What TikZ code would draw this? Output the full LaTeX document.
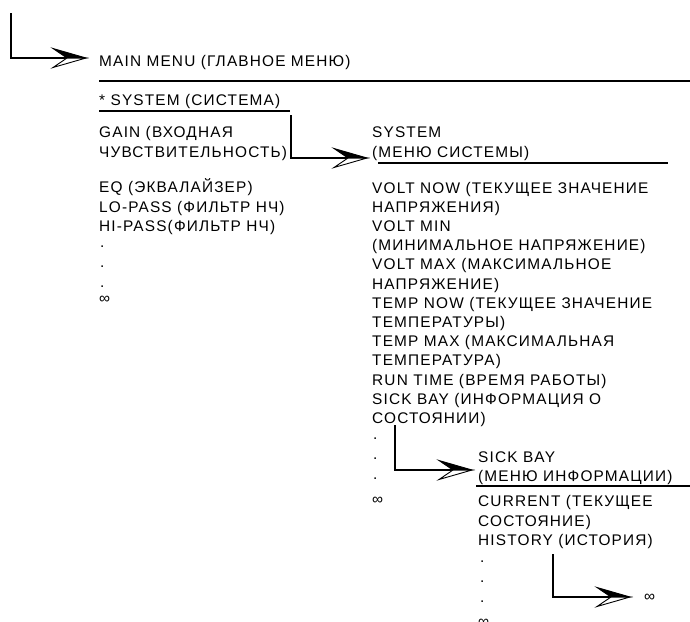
\documentclass[tikz,border=0pt]{standalone}
\usepackage{fontspec}
\setmainfont{Liberation Sans}[LetterSpace=7.5]
\usepackage{tikz}

\pgfdeclarearrow{
  name = menutip,
  setup code = {
    \pgfarrowssettipend{0pt}
    \pgfarrowssetbackend{-33pt}
    \pgfarrowssetlineend{-17pt}
    \pgfarrowshullpoint{0pt}{0pt}
    \pgfarrowshullpoint{-33pt}{9.5pt}
    \pgfarrowshullpoint{-33pt}{-9.5pt}
  },
  drawing code = {
    \pgfsetlinewidth{0.9pt}
    \pgfsetmiterjoin
    \pgfpathmoveto{\pgfqpoint{0pt}{0pt}}
    \pgfpathlineto{\pgfqpoint{-33pt}{-9.5pt}}
    \pgfpathlineto{\pgfqpoint{-19pt}{0pt}}
    \pgfpathclose
    \pgfsetfillcolor{white}
    \pgfusepathqfillstroke
    \pgfpathmoveto{\pgfqpoint{0pt}{0pt}}
    \pgfpathlineto{\pgfqpoint{-33pt}{9.5pt}}
    \pgfpathlineto{\pgfqpoint{-19pt}{0pt}}
    \pgfpathclose
    \pgfsetfillcolor{black}
    \pgfusepathqfillstroke
  }
}

\begin{document}
\begin{tikzpicture}[x=1pt,y=-1pt,
    item/.style={anchor=base west, inner sep=0pt,
        font=\fontsize{15.4}{19}\selectfont},
    rule/.style={line width=2.6pt},
    elbow/.style={line width=1.8pt, -menutip}]
\useasboundingbox (0,0) rectangle (690,621);

% main menu
\node [item] (mainmenu) at (99,66) {MAIN MENU (ГЛАВНОЕ МЕНЮ)};
\draw [rule] (99,81) -- (690,81);
\node [item] (system) at (99,105) {* SYSTEM (СИСТЕМА)};
\draw [rule] (99,111) -- (290,111);
\node [item] (gain1) at (99,137) {GAIN (ВХОДНАЯ};
\node [item] (gain2) at (99,157) {ЧУВСТВИТЕЛЬНОСТЬ)};
\node [item] (eq) at (99,192) {EQ (ЭКВАЛАЙЗЕР)};
\node [item] (lopass) at (99,212) {LO-PASS (ФИЛЬТР НЧ)};
\node [item] (hipass) at (99,231) {HI-PASS(ФИЛЬТР НЧ)};
\foreach \y [count=\i] in {247,267,287}
    \node [item] (dotA\i) at (100,\y) {.};
\node [item] (inf0) at (99,303) {∞};

% system menu
\node [item] (sys1) at (372,137) {SYSTEM};
\node [item] (sys2) at (372,157) {(МЕНЮ СИСТЕМЫ)};
\draw [rule] (378,163) -- (668,163);
\foreach \t [count=\i from 0] in {VOLT NOW (ТЕКУЩЕЕ ЗНАЧЕНИЕ, НАПРЯЖЕНИЯ),
    VOLT MIN, (МИНИМАЛЬНОЕ НАПРЯЖЕНИЕ), VOLT MAX (МАКСИМАЛЬНОЕ,
    НАПРЯЖЕНИЕ), TEMP NOW (ТЕКУЩЕЕ ЗНАЧЕНИЕ, ТЕМПЕРАТУРЫ),
    TEMP MAX (МАКСИМАЛЬНАЯ, ТЕМПЕРАТУРА), RUN TIME (ВРЕМЯ РАБОТЫ),
    SICK BAY (ИНФОРМАЦИЯ О, СОСТОЯНИИ)}
    \node [item] (sysitem\i) at (372,{193+19.2*\i}) {\t};
\foreach \y [count=\i] in {439,459,479}
    \node [item] (dotB\i) at (373,\y) {.};
\node [item] (inf1) at (372,504) {∞};

% sick bay menu
\node [item] (sick1) at (478,462) {SICK BAY};
\node [item] (sick2) at (478,481) {(МЕНЮ ИНФОРМАЦИИ)};
\draw [rule] (476,486) -- (690,486);
\node [item] (current1) at (478,506) {CURRENT (ТЕКУЩЕЕ};
\node [item] (current2) at (478,526) {СОСТОЯНИЕ)};
\node [item] (history) at (478,545) {HISTORY (ИСТОРИЯ)};
\foreach \y [count=\i] in {562,582,602}
    \node [item] (dotC\i) at (480,\y) {.};
\node [item] (inf2) at (478,626) {∞};
\node [item] (inf3) at (644,601) {∞};

% links between menus
\coordinate (drop0) at (11,13);
\draw [elbow] (drop0) |- ([shift={(-13pt,8pt)}]mainmenu.base west);
\coordinate (drop1) at (291,115);
\draw [elbow] (drop1) |- ([shift={(-5pt,-1pt)}]sys2.base west);
\coordinate (drop2) at (395,425);
\draw [elbow] (drop2) |- ([shift={(-6pt,-8pt)}]sick1.base west);
\coordinate (drop3) at (553,554);
\draw [elbow] (drop3) |- ([shift={(-14pt,4pt)}]inf3.base west);
\end{tikzpicture}
\end{document}
